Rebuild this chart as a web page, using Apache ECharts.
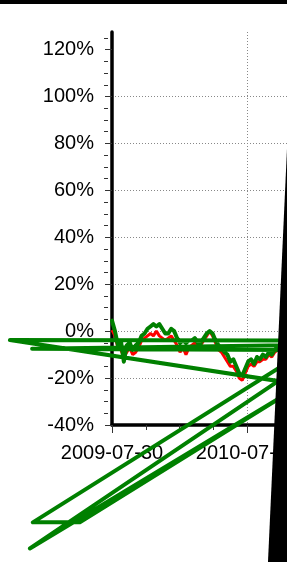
<!DOCTYPE html>
<html>
<head>
    <meta charset="utf-8">
    <title>ECharts</title>
    <script src="https://cdn.jsdelivr.net/npm/echarts@6/dist/echarts.min.js"></script>
    <style>html,body{margin:0;padding:0;background:#fff;}</style>
</head>
<body>
    <div id="main" style="width:287px;height:562px;"></div>
    <script type="text/javascript">
        // x = days after 2009-07-30, y = percent
        var days = [0, 8, 16, 24, 32, 40, 48, 56, 64, 72, 80, 88, 96, 104, 112, 120, 128, 136, 144, 152,
                    160, 168, 176, 184, 192, 200, 208, 216, 224, 232, 240, 248, 256, 264, 272, 280, 288, 296, 304, 312,
                    320, 328, 336, 344, 352, 360, 368, 376, 384, 392, 400, 408, 416, 424, 432, 440, 448, 456, 464, 472];
        var green = [4.5, 0, -6, -4, -13, -6, -5, -8, -6, -5, -2, -1, 1, 2, 3, 2, 3, 1, -1, -1,
                     1, 0, -3, -5, -4, -5, -4, -4, -3, -5, -5, -3, -1, 0, -1, -4, -6, -7, -9, -10,
                     -13, -12, -15, -18, -19, -16, -13, -12, -14, -11, -12, -10, -11, -9, -10, -8, -7, -6, -5, -5];
        var red = [0.5, -2, -7, -8, -11, -9, -7, -10, -9, -7, -4, -3, -2, -1, -2, 0, -2, -3, -4, -3,
                   -2, -4, -6, -9, -7, -10, -7, -6, -5, -7, -6, -4, -2, 0, -2, -5, -8, -9, -11, -13,
                   -15, -15, -17, -20, -21, -18, -15, -14, -15, -13, -13, -12, -12, -10, -11, -9, -8, -7, -6, -6];
        // points the green line jumps to after the run
        var strayDays = [480, -276, 480, 480, -216, 480, 480, -214, -87, 480, -222, 480];
        var strayVals = [-22, -3.8, -4, -8, -7.5, -6, -12.8, -81.5, -81.5, -26, -92.6, -18];
        // black wedge on the right
        var wedgeDays = [475.5, 418.2, 800, 800];
        var wedgeVals = [85.8, -110.5, -110.5, 85.8];
        var yTicks = [-40, -20, 0, 20, 40, 60, 80, 100, 120];
        var yMinor = [-35, -30, -25, -15, -10, -5, 5, 10, 15, 25, 30, 35, 45, 50, 55, 65, 70, 75,
                      85, 90, 95, 105, 110, 115, 125];

        var font = 'Liberation Sans, Arial, sans-serif';
        var greenData = days.map(function (d, i) { return [d, green[i]]; })
            .concat(strayDays.map(function (d, i) { return [d, strayVals[i]]; }));
        var redData = days.map(function (d, i) { return [d, red[i]]; });
        var wedgeData = wedgeDays.map(function (d, i) { return [d, wedgeVals[i]]; });

        function dayLabel(v) {
            var d = new Date(Date.UTC(2009, 6, 30) + v * 86400000);
            return d.toISOString().slice(0, 10);
        }

        // one polygon / polyline through all points of a series (not clipped to the grid)
        function shapeOf(points, type, style) {
            return function (params, api) {
                if (params.dataIndex !== 0) return;
                var pts = points.map(function (p) { return api.coord(p); });
                return {type: type, shape: {points: pts}, style: style};
            };
        }

        var myChart = echarts.init(document.getElementById('main'));
        var option = {
            animation: false,
            backgroundColor: '#fff',
            graphic: [{
                type: 'rect', left: 0, top: 0,
                shape: {width: 287, height: 4},
                style: {fill: '#000'}
            }],
            grid: {left: 112, top: 32, width: 270, height: 393, outerBoundsMode: 'none', containLabel: false},
            xAxis: [{
                type: 'value', min: 0, max: 730, interval: 365,
                axisLine: {show: true, onZero: false, lineStyle: {color: '#000', width: 3.5}},
                axisTick: {show: true, length: 8, lineStyle: {color: '#333', width: 1}},
                minorTick: {show: true, splitNumber: 4, length: 5, lineStyle: {color: '#333', width: 1}},
                axisLabel: {formatter: dayLabel, margin: 18, color: '#000', fontFamily: font, fontSize: 20,
                            showMinLabel: true, showMaxLabel: false, hideOverlap: false},
                splitLine: {show: true, lineStyle: {color: '#888', width: 1, type: [1, 2]}}
            }],
            yAxis: [{
                type: 'value', min: -40, max: 127.5, interval: 20, offset: 4,
                axisLine: {show: true, lineStyle: {color: '#000', width: 3.5}},
                axisTick: {show: true, length: 7, customValues: yTicks, lineStyle: {color: '#333', width: 1}},
                axisLabel: {customValues: yTicks, formatter: '{value}%', margin: 14, color: '#000',
                            fontFamily: font, fontSize: 20},
                splitLine: {show: true, showMaxLine: false, lineStyle: {color: '#888', width: 1, type: [1, 2]}}
            }, {
                type: 'value', min: -40, max: 127.5, position: 'left', offset: 4,
                axisLine: {show: false},
                axisTick: {show: true, length: 4, customValues: yMinor, lineStyle: {color: '#333', width: 1}},
                axisLabel: {show: false},
                splitLine: {show: false}
            }],
            series: [{
                name: 'red', type: 'line', data: redData, showSymbol: false, clip: false,
                lineStyle: {color: '#ff0000', width: 3}, z: 3
            }, {
                name: 'green', type: 'custom', data: greenData, clip: false, z: 4,
                renderItem: shapeOf(greenData, 'polyline',
                    {stroke: '#008000', lineWidth: 4, fill: null, lineJoin: 'round', lineCap: 'round'})
            }, {
                type: 'custom', data: wedgeData, clip: false, z: 10,
                renderItem: shapeOf(wedgeData, 'polygon', {fill: '#000'})
            }]
        };
        myChart.setOption(option);
    </script>
</body>
</html>
